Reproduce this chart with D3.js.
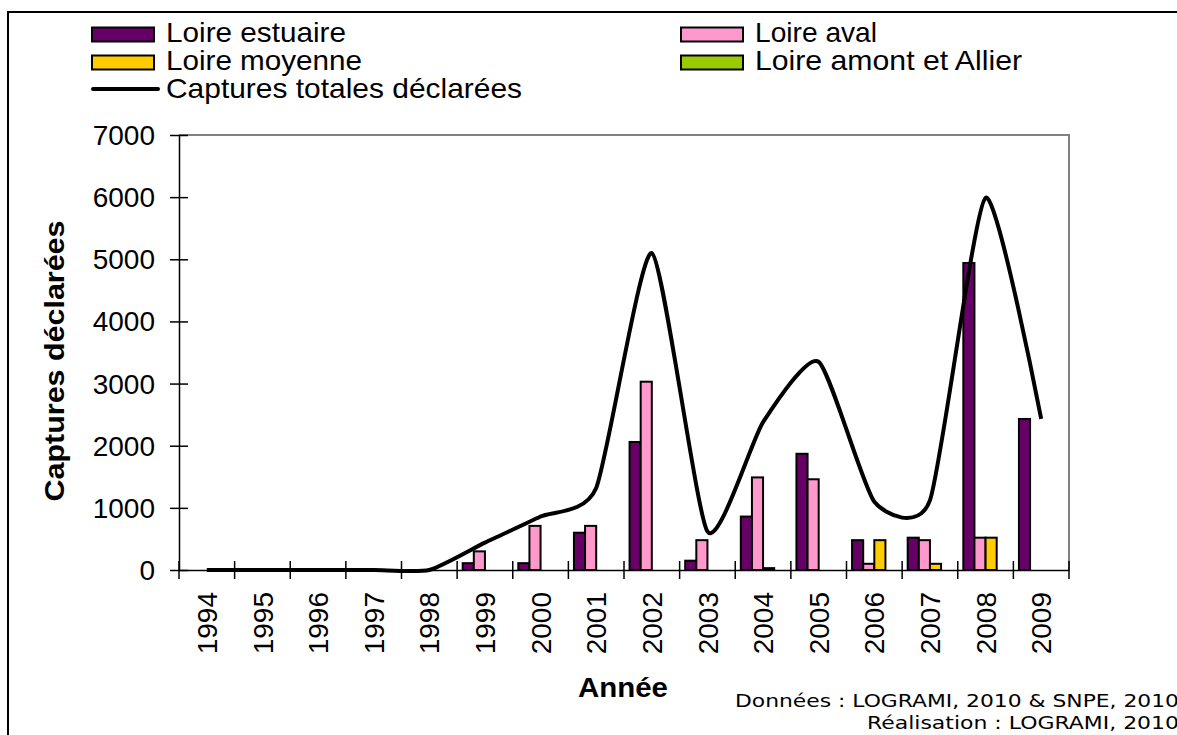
<!DOCTYPE html>
<html><head><meta charset="utf-8">
<script src="https://cdn.jsdelivr.net/npm/d3@7"></script>
<style>
html,body{margin:0;padding:0;background:#fff;}
svg{display:block;}
text{fill:#000;}
</style></head>
<body>
<svg id="chart" width="1177" height="735"></svg>
<script>
const years = ["1994","1995","1996","1997","1998","1999","2000","2001","2002","2003","2004","2005","2006","2007","2008","2009"];
const loireEstuaire = [0,0,0,0,0,110,110,600,2060,150,860,1870,480,520,4940,2430];
const loireAval     = [0,0,0,0,0,300,710,710,3030,480,1490,1460,100,480,520,0];
const loireMoyenne  = [0,0,0,0,0,0,0,0,0,0,30,0,480,100,520,0];
const loireAmont    = [0,0,0,0,0,0,0,0,0,0,0,0,0,0,0,0];
const capturesTotales = [0,0,0,0,0,440,860,1320,5100,620,2380,3350,1100,1120,5990,2430];
const yTicks = [0,1000,2000,3000,4000,5000,6000,7000];
const seriesNames = ["Loire estuaire","Loire aval","Loire moyenne","Loire amont et Allier"];
const seriesColors = ["#660066","#FF99CC","#FFCC00","#99CC00"];
const lineName = "Captures totales déclarées";

const SANS = "'Liberation Sans', Arial, sans-serif";
const VERD = "'DejaVu Sans', Verdana, sans-serif";

const series = [loireEstuaire, loireAval, loireMoyenne, loireAmont];
const svg = d3.select("#chart");

// outer frame
svg.append("rect").attr("x",8).attr("y",12).attr("width",1200).attr("height",760)
  .attr("fill","none").attr("stroke","#000").attr("stroke-width",2);

const L = 179, R = 1069, T = 135, B = 570;
const x = d3.scaleBand().domain(years).range([L,R]).paddingInner(0).paddingOuter(0);
const xs = d3.scaleBand().domain(d3.range(series.length)).range([0,x.bandwidth()]).paddingInner(0).paddingOuter(0.5);
const y = d3.scaleLinear().domain([0,7000]).range([B,T]);

// plot border top/right (gray)
svg.append("path").attr("d",`M${L},${T}H${R}V${B}`).attr("fill","none").attr("stroke","#808080").attr("stroke-width",2);

// bars
series.forEach((vals,si)=>{
  svg.append("g").selectAll("rect")
    .data(years.map((yr,i)=>({yr,v:vals[i]})).filter(d=>d.v>0))
    .join("rect")
    .attr("x",d=>x(d.yr)+xs(si))
    .attr("width",xs.bandwidth())
    .attr("y",d=>y(d.v))
    .attr("height",d=>y(0)-y(d.v))
    .attr("fill",seriesColors[si])
    .attr("stroke","#000").attr("stroke-width",2);
});

// axes
const yAxis = d3.axisLeft(y).tickValues(yTicks).tickFormat(d3.format("d")).tickSizeInner(9).tickSizeOuter(0).tickPadding(14);
const gy = svg.append("g").attr("transform",`translate(${L},0)`).call(yAxis);
gy.select(".domain").attr("stroke","#000").attr("stroke-width",1.5);
gy.selectAll(".tick line").attr("x2",9).attr("x1",-9).attr("stroke","#000").attr("stroke-width",1.5);
gy.selectAll(".tick text").style("font-size","28px").style("font-family",SANS).attr("fill","#000").attr("x",-24).attr("dy","0.34em");

const xAxis = d3.axisBottom(x).tickSize(0).tickSizeOuter(0);
const gx = svg.append("g").attr("transform",`translate(0,${B})`).call(xAxis);
gx.select(".domain").attr("stroke","#000").attr("stroke-width",1.5);
gx.selectAll(".tick text")
  .style("font-size","28px").style("font-family",SANS).attr("fill","#000")
  .attr("text-anchor","end")
  .attr("transform","rotate(-90)")
  .attr("x",-22).attr("y",0).attr("dy","0.36em");
// category boundary ticks
const bounds = years.map(yr=>x(yr)).concat([R]);
svg.append("g").selectAll("line").data(bounds).join("line")
  .attr("x1",d=>d).attr("x2",d=>d).attr("y1",B-9).attr("y2",B+9)
  .attr("stroke","#000").attr("stroke-width",1.5);

// total line
const line = d3.line()
  .x((d,i)=>x(years[i])+x.bandwidth()/2)
  .y(d=>y(d))
  .curve(d3.curveCardinal.tension(0.4));
svg.append("path").datum(capturesTotales).attr("d",line)
  .attr("fill","none").attr("stroke","#000").attr("stroke-width",4).attr("stroke-linejoin","round");

// legend
const legItems = [
  {name:seriesNames[0], color:seriesColors[0], sx:92, tx:166, cy:34.5, base:42, len:180},
  {name:seriesNames[1], color:seriesColors[1], sx:681, tx:755, cy:34.5, base:42, len:122},
  {name:seriesNames[2], color:seriesColors[2], sx:92, tx:166, cy:62.5, base:70, len:196},
  {name:seriesNames[3], color:seriesColors[3], sx:681, tx:755, cy:62.5, base:70, len:267}
];
const lg = svg.append("g");
legItems.forEach(it=>{
  lg.append("rect").attr("x",it.sx).attr("y",it.cy-7).attr("width",62).attr("height",14)
    .attr("fill",it.color).attr("stroke","#000").attr("stroke-width",2);
  lg.append("text").attr("x",it.tx).attr("y",it.base).style("font-size","28px").style("font-family",SANS)
    .attr("textLength",it.len).attr("lengthAdjust","spacingAndGlyphs").text(it.name);
});
lg.append("line").attr("x1",93).attr("x2",158).attr("y1",89).attr("y2",89)
  .attr("stroke","#000").attr("stroke-width",4).attr("stroke-linecap","round");
lg.append("text").attr("x",166).attr("y",98).style("font-size","28px").style("font-family",SANS)
  .attr("textLength",356).attr("lengthAdjust","spacingAndGlyphs").text(lineName);

// axis titles
svg.append("text").attr("transform","translate(64,361) rotate(-90)")
  .attr("text-anchor","middle").style("font-size","28px").style("font-family",SANS).style("font-weight","bold")
  .attr("textLength",281).attr("lengthAdjust","spacingAndGlyphs").text("Captures déclarées");
svg.append("text").attr("x",623).attr("y",697)
  .attr("text-anchor","middle").style("font-size","28px").style("font-family",SANS).style("font-weight","bold")
  .attr("textLength",90).attr("lengthAdjust","spacingAndGlyphs").text("Année");

// source
svg.append("text").attr("x",1179).attr("y",707).attr("text-anchor","end")
  .style("font-family",VERD).style("font-size","17.5px")
  .attr("textLength",444).attr("lengthAdjust","spacingAndGlyphs")
  .text("Données : LOGRAMI, 2010 & SNPE, 2010");
svg.append("text").attr("x",1179).attr("y",729).attr("text-anchor","end")
  .style("font-family",VERD).style("font-size","17.5px")
  .attr("textLength",312).attr("lengthAdjust","spacingAndGlyphs")
  .text("Réalisation : LOGRAMI, 2010");
</script>
</body></html>
